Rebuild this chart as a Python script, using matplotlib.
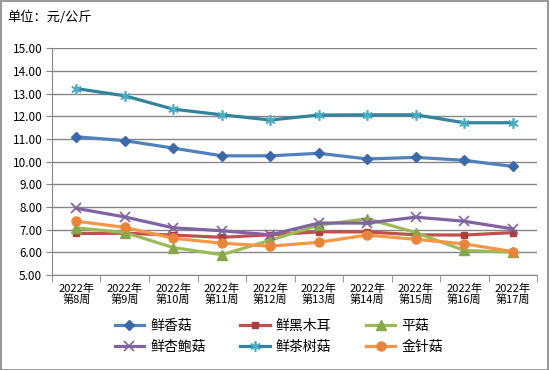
import matplotlib
matplotlib.use("Agg")
import matplotlib.pyplot as plt
from matplotlib.patches import Rectangle

plt.rcParams['font.family'] = ['Noto Sans CJK SC', 'DejaVu Sans']

weeks = ["2022年\n第8周", "2022年\n第9周", "2022年\n第10周", "2022年\n第11周", "2022年\n第12周",
         "2022年\n第13周", "2022年\n第14周", "2022年\n第15周", "2022年\n第16周", "2022年\n第17周"]
xianggu = [11.10, 10.93, 10.60, 10.26, 10.26, 10.37, 10.12, 10.19, 10.06, 9.79]
muer = [6.83, 6.84, 6.76, 6.66, 6.77, 6.90, 6.90, 6.77, 6.76, 6.87]
pinggu = [7.08, 6.87, 6.21, 5.89, 6.53, 7.20, 7.48, 6.87, 6.08, 6.00]
xingbaogu = [7.94, 7.56, 7.08, 6.95, 6.77, 7.29, 7.29, 7.55, 7.37, 7.03]
chashugu = [13.23, 12.91, 12.32, 12.07, 11.84, 12.06, 12.07, 12.07, 11.72, 11.72]
jinzhengu = [7.37, 7.10, 6.62, 6.40, 6.27, 6.44, 6.76, 6.57, 6.37, 6.03]
yticks = [5, 6, 7, 8, 9, 10, 11, 12, 13, 14, 15]

series = [
    ("鲜香菇", xianggu, "#4F81BD", "#3C6AA8", "D", 5.5),
    ("鲜黑木耳", muer, "#C0504D", "#A9403D", "s", 5),
    ("平菇", pinggu, "#9BBB59", "#86A84A", "^", 6.5),
    ("鲜杏鲍菇", xingbaogu, "#8064A2", "#8064A2", "x", 6.5),
    ("鲜茶树菇", chashugu, "#31849B", "#4BACC6", (6, 2, 0), 7.5),
    ("金针菇", jinzhengu, "#F79646", "#E8853A", "o", 6.5),
]

fig = plt.figure(figsize=(5.5, 3.7), dpi=100)
ax = fig.add_axes([0.0945, 0.257, 0.882, 0.612])
x = list(range(len(weeks)))
handles = []
for name, vals, lc, mc, m, ms in series:
    kw = dict(color=lc, lw=2.3, marker=m, markersize=ms, markerfacecolor=mc,
              markeredgecolor=mc, label=name)
    if m in ("x",) or isinstance(m, tuple):
        kw["markeredgewidth"] = 1.2
    h, = ax.plot(x, vals, **kw)
    handles.append(h)

ax.set_ylim(5, 15)
ax.set_xlim(-0.5, len(weeks) - 0.5)
ax.set_yticks(yticks)
ax.set_yticklabels([f"{v:.2f}" for v in yticks], fontsize=8.5)
ax.set_xticks(x)
ax.set_xticklabels(weeks, fontsize=8, linespacing=1.1)
ax.set_xticks([i - 0.5 for i in range(len(weeks) + 1)], minor=True)
ax.tick_params(axis='x', which='major', length=0, pad=6)
ax.tick_params(axis='x', which='minor', length=5, color="#868686")
ax.tick_params(axis='y', length=4, color="#868686", pad=3)
ax.grid(axis='y', color="#868686", lw=1)
ax.set_axisbelow(True)
for s in ("top", "right"):
    ax.spines[s].set_visible(False)
for s in ("left", "bottom"):
    ax.spines[s].set_color("#868686")

fig.text(0.013, 0.952, "单位：元/公斤", fontsize=9.5, va="center", ha="left")

order = [0, 3, 1, 4, 2, 5]
leg = fig.legend([handles[i] for i in order], [series[i][0] for i in order],
                 loc="center left", bbox_to_anchor=(0.196, 0.091), ncol=3, frameon=False,
                 fontsize=10, handlelength=2.1, columnspacing=2.5, handletextpad=0.45,
                 labelspacing=0.5, borderpad=0)

fig.patches.append(Rectangle((0.001, 0.001), 0.996, 0.996, transform=fig.transFigure,
                             fill=False, edgecolor="#868686", lw=1.2))

fig.savefig("out.png", dpi=100)
